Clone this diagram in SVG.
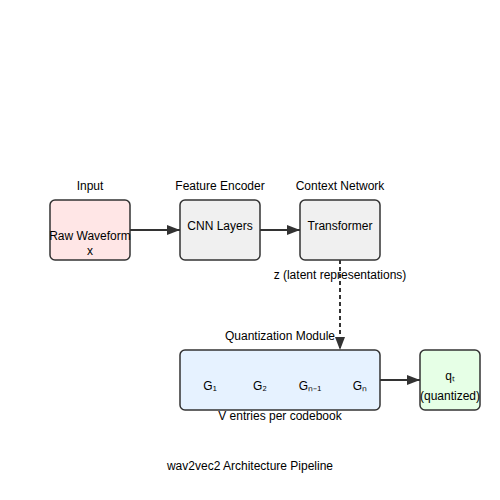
<svg xmlns="http://www.w3.org/2000/svg" width="500" height="500" viewBox="0 0 500 500">
<defs>
<marker id="arr" markerWidth="13" markerHeight="10" refX="13" refY="5" orient="auto" markerUnits="userSpaceOnUse" viewBox="0 0 13 10">
<path d="M0,0 L13,5 L0,10 z" fill="#333"/>
</marker>
<style>
text{font-family:"Liberation Sans",Arial,sans-serif;font-size:12px;fill:#000;text-anchor:middle}
.box{stroke:#333;stroke-width:1.5}
.edge{stroke:#333;stroke-width:2;fill:none}
</style>
</defs>
<rect width="500" height="500" fill="#fff"/>
<g id="input">
<text x="90" y="190">Input</text>
<rect class="box" x="50" y="200" width="80" height="60" rx="5" fill="#ffe6e6"/>
<text x="90" y="240">Raw Waveform</text>
<text x="90" y="255">x</text>
</g>
<g id="encoder">
<text x="220" y="190">Feature Encoder</text>
<rect class="box" x="180" y="200" width="80" height="60" rx="5" fill="#f0f0f0"/>
<text x="220" y="230">CNN Layers</text>
</g>
<g id="context">
<text x="340" y="190">Context Network</text>
<rect class="box" x="300" y="200" width="80" height="60" rx="5" fill="#f0f0f0"/>
<text x="340" y="230">Transformer</text>
</g>
<g id="quant">
<text x="280" y="340">Quantization Module</text>
<rect class="box" x="180" y="350" width="200" height="60" rx="5" fill="#e6f2ff"/>
<text x="210" y="390">G₁</text>
<text x="260" y="390">G₂</text>
<text x="310" y="390">Gₙ₋₁</text>
<text x="360" y="390">Gₙ</text>
<text x="280" y="420">V entries per codebook</text>
</g>
<g id="output">
<rect class="box" x="420" y="350" width="60" height="60" rx="5" fill="#e6ffe6"/>
<text x="450" y="380">qₜ</text>
<text x="450" y="400">(quantized)</text>
</g>
<g id="connectors">
<line class="edge" x1="130" y1="230" x2="180" y2="230" marker-end="url(#arr)"/>
<line class="edge" x1="260" y1="230" x2="300" y2="230" marker-end="url(#arr)"/>
<line class="edge" x1="340" y1="260" x2="340" y2="350" stroke-dasharray="4,3" stroke-width="1.5" marker-end="url(#arr)"/>
<text x="340" y="279">z (latent representations)</text>
<line class="edge" x1="380" y1="380" x2="420" y2="380" marker-end="url(#arr)"/>
</g>
<text x="250" y="470">wav2vec2 Architecture Pipeline</text>
</svg>
